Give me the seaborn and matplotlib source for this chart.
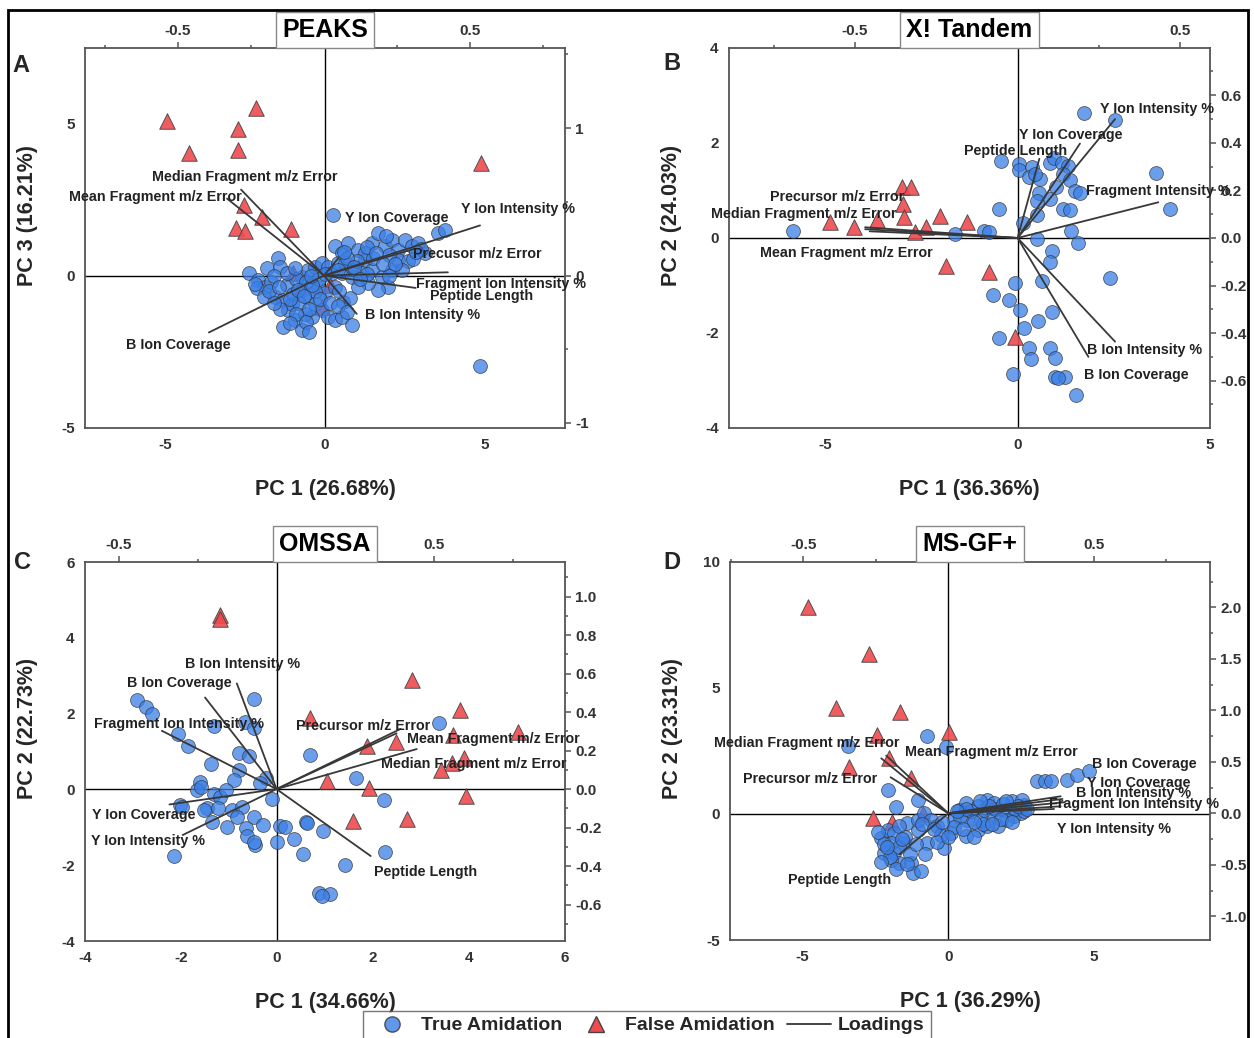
import numpy as np
import pandas as pd
import matplotlib.pyplot as plt
import seaborn as sns
from matplotlib.lines import Line2D
from matplotlib.patches import Rectangle
from matplotlib.ticker import MultipleLocator, FormatStrFormatter


# ---------------- Panel A : PEAKS (PC1 vs PC3) ----------------
a_true_x = [-2.38, -2.08, -1.88, -2.14, -1.82, -1.46, -1.41, -1.56, -1.30, -1.15, -0.94, -0.73, -1.30,
            -1.04, -0.73, -0.52, -0.31, -0.10, -0.42, -0.63, 0.10, 0.31, 0.52, 0.83, 0.57, 0.78, -0.73,
            -0.52, -0.31, -0.10, 0.10, 0.21, -0.21, 0.00, 0.31,
            -1.70, -1.60, -1.20, -0.90, -1.00, -0.80, -0.50, -0.30, -0.60, -1.90, -1.40, -0.20, 0.00,
            -2.20, -1.75, -1.45, -1.10, -0.85, -0.65, -0.40, -0.15, 0.15, 0.40, -0.90, -0.60, -1.10,
            -0.50, -1.20, -0.45, -0.95, 0.45, 0.70, -1.60,
            0.31, 0.52, 0.73, 1.04, 1.25, 1.46, 1.67, 1.88, 2.08, 2.29, 2.50, 2.71, 2.92, 3.13, 3.54, 3.75,
            0.52, 0.83, 1.15, 1.46, 1.77, 2.08, 2.29, 1.98, 1.67, 1.35, 1.04, 0.83, 0.42, 0.63, 1.25,
            2.60, 2.40, 1.50, 1.00, 0.70, 2.00, 3.00, 1.80,
            0.90, 1.30, 1.60, 2.20, 2.75, 2.00, 1.30, 0.60, 1.90, 2.85, 0.40, 1.10,
            0.25, 4.84]
a_true_y = [0.11, -0.13, -0.35, -0.41, 0.25, 0.58, 0.31, -0.68, -0.79, -1.13, -1.46, -1.79, -1.68,
            -0.91, -0.46, -0.68, -0.91, -1.13, -1.35, -1.24, -1.35, -1.46, -1.35, -1.62, -0.85, -0.74, -0.02,
            0.20, 0.31, 0.42, 0.31, 0.09, -0.35, -0.57, -0.35,
            -0.20, 0.00, -0.30, -0.10, -0.60, -0.90, -1.10, -0.50, -0.20, -0.70, -1.10, -0.10, 0.05,
            -0.25, -0.50, -0.35, -0.75, -0.45, -0.65, -0.30, -0.75, -0.90, -1.00, -1.25, -1.50, -1.55,
            -1.85, 0.10, 0.00, 0.25, -0.50, -1.20, -0.90,
            0.97, 0.75, 1.08, 0.86, 0.53, 1.08, 1.41, 0.97, 1.19, 0.86, 1.19, 0.97, 1.08, 0.75, 1.41, 1.52,
            0.09, -0.02, 0.09, 0.20, -0.02, 0.20, 0.53, -0.35, -0.46, -0.24, -0.35, 0.31, 0.42, 0.42, 0.75,
            0.50, 0.20, 0.60, 0.50, 0.60, 0.70, 0.90, 0.40,
            0.30, 0.95, 0.75, 0.40, 0.55, 0.00, 0.05, 0.80, 1.30, 0.80, 0.20, -0.10,
            1.99, -2.95]
a_false_x = [-4.94, -4.25, -2.72, -2.16, -2.72, 4.88, -2.53, -1.97, -2.78, -2.50, -1.06, -0.99, 0.16, -0.10]
a_false_y = [5.10, 4.04, 4.83, 5.53, 4.14, 3.71, 2.32, 1.95, 1.59, 1.49, 1.56, 0.09, -0.30, -1.02]
a_names = ["Median Fragment m/z Error", "Mean Fragment m/z Error", "Y Ion Coverage", "Y Ion Intensity %",
           "Precusor m/z Error", "Fragment Ion Intensity %", "Peptide Length", "B Ion Intensity %",
           "B Ion Coverage"]
a_load_u = [-0.284, -0.332, 0.05, 0.534, 0.307, 0.424, 0.314, 0.112, -0.394]
a_load_v = [0.583, 0.522, 0.12, 0.34, 0.18, 0.022, -0.084, -0.26, -0.386]

# ---------------- Panel B : X! Tandem ----------------
b_true_x = [1.73, 2.54, -0.43, 0.05, 0.03, 0.37, 0.29, 0.57, 0.46, 0.85, 0.94, 1.15, 1.31, 1.18, 1.35,
            1.00, 1.50, 1.63, 0.55, 0.50, 0.85, 1.18, 1.35, 0.50, 0.14, -0.47, 3.60, 3.97, 1.39, 1.56,
            0.50, 0.89, 0.83, -1.62, -0.87, -0.75,
            -0.06, 0.63, 2.39, -0.64, -0.21, 0.07, 0.89, 0.52, 0.16, -0.47, 0.30, 0.83, 0.35, 0.98,
            -0.13, 0.98, 1.24, 1.06, 1.52, -5.84]
b_true_y = [2.64, 2.48, 1.63, 1.56, 1.44, 1.49, 1.28, 1.25, 1.34, 1.58, 1.69, 1.58, 1.51, 1.35, 1.21,
            1.07, 0.98, 0.95, 0.95, 0.77, 0.83, 0.60, 0.58, 0.49, 0.32, 0.62, 1.37, 0.62, 0.14, -0.11,
            -0.02, -0.27, -0.51, 0.08, 0.14, 0.13,
            -0.94, -0.91, -0.84, -1.20, -1.31, -1.52, -1.55, -1.74, -1.90, -2.10, -2.32, -2.31, -2.55, -2.52,
            -2.86, -2.93, -2.92, -2.94, -3.31, 0.15]
b_false_x = [-0.06, -1.85, -0.75, -3.00, -2.77, -2.98, -2.96, -4.87, -4.24, -3.65, -2.66, -2.37, -2.01, -1.32]
b_false_y = [-2.08, -0.58, -0.72, 1.07, 1.08, 0.72, 0.44, 0.33, 0.23, 0.38, 0.12, 0.23, 0.47, 0.33]
b_names = ["Y Ion Intensity %", "Y Ion Coverage", "Peptide Length", "Fragment Intensity %",
           "Precursor m/z Error", "Median Fragment m/z Error", "Mean Fragment m/z Error",
           "B Ion Intensity %", "B Ion Coverage"]
b_load_u = [0.30, 0.192, 0.067, 0.433, -0.469, -0.469, -0.455, 0.30, 0.218]
b_load_v = [0.50, 0.397, 0.333, 0.15, 0.045, 0.037, 0.028, -0.436, -0.50]

# ---------------- Panel C : OMSSA ----------------
c_true_x = [-2.92, -2.72, -2.60, -0.47, -1.32, -0.66, -0.49, -2.07, -1.86, -0.80, -0.59, -1.38, -0.80,
            -0.89, -0.24, -0.35, -1.61, -1.67, -1.58, -1.32, -1.18, -1.06, -2.03, -1.98, -1.46, -1.53,
            -1.22, -0.94, -0.73, -0.83, -0.49, -0.29, -1.35, -1.04, -0.64, -0.63, -0.45, -0.49, -0.10,
            0.06, 0.17, 0.00, 0.36, 0.54, 0.61, 0.96, 0.69, 1.65, 1.42, -2.14, 0.87, 1.11, 0.93, 3.37,
            2.23, 2.25, 0.62]
c_true_y = [2.37, 2.18, 1.98, 2.40, 1.67, 1.78, 1.63, 1.46, 1.14, 0.96, 0.88, 0.68, 0.51,
            0.25, 0.29, 0.16, 0.20, -0.02, 0.07, -0.11, -0.19, -0.02, -0.41, -0.46, -0.50, -0.54,
            -0.50, -0.54, -0.46, -0.72, -0.72, -0.94, -0.85, -0.98, -1.03, -1.23, -1.46, -1.38, -0.26,
            -0.96, -0.98, -1.38, -1.32, -1.70, -0.85, -1.10, 0.90, 0.29, -1.99, -1.75, -2.74, -2.75, -2.80, 1.75,
            -0.29, -1.65, -0.88]
c_false_x = [-1.19, -1.19, 2.81, 3.81, 5.01, 0.68, 1.87, 2.48, 3.67, 3.90, 3.65, 3.42, 1.04, 1.92, 3.94, 1.59, 2.70]
c_false_y = [4.60, 4.50, 2.90, 2.09, 1.52, 1.88, 1.16, 1.25, 1.43, 0.84, 0.71, 0.52, 0.23, 0.03, -0.17, -0.83, -0.79]
c_names = ["B Ion Intensity %", "B Ion Coverage", "Fragment Ion Intensity %", "Y Ion Coverage",
           "Y Ion Intensity %", "Peptide Length", "Precursor m/z Error", "Mean Fragment m/z Error",
           "Median Fragment m/z Error"]
c_load_u = [-0.126, -0.227, -0.364, -0.340, -0.298, 0.299, 0.394, 0.381, 0.445]
c_load_v = [0.549, 0.476, 0.303, -0.08, -0.239, -0.348, 0.313, 0.29, 0.208]

# ---------------- Panel D : MS-GF+ ----------------
d_true_x = [-0.73, -0.08, -3.44, -2.08, -1.80, -1.05, 3.07, 3.32, 3.53, 4.10, 4.44, 4.85,
            -2.31, -2.08, -1.86, -1.97, -2.20, -1.86, -1.68, -1.97, -1.28, -1.22, -0.94, -1.40, -1.05,
            -0.71, -1.05, -1.51, -1.68, -0.82, -0.60, -0.37, -0.25, -0.14, 0.09, 0.21, 0.38, 0.61, 0.66,
            0.61, 1.01, 1.12, 1.35, 1.24, 1.58, 1.70, 1.35, 1.92, 2.21, 2.27, 2.50, 2.61, 2.55, 2.04,
            1.01, 1.58, 0.4, 0.8, 1.6, 1.9, 2.3, 2.6, 1.2, 0.9, -0.4, -1.7, -2.0, -1.3, -1.5, -2.2, -1.8,
            0.2, 0.6, 1.8, 2.4,
            -2.4, -2.1, -1.6, -1.1, -0.9, -0.5, -0.2, 0.3, 0.9, 1.4, 2.0, 2.7, 1.5, 0.5, -1.4, -2.3,
            -0.8, 1.1, 2.2, 0.0]
d_true_y = [3.08, 2.66, 2.69, 0.97, 0.28, 0.57, 1.30, 1.30, 1.30, 1.36, 1.56, 1.69,
            -0.95, -0.62, -0.75, -1.15, -1.55, -1.55, -1.94, -1.81, -1.94, -2.34, -2.28, -0.36, -0.62,
            -1.15, -0.22, -1.15, -0.49, 0.04, -0.22, -0.49, -0.82, -1.35, -0.75, -0.22, 0.17, 0.44, -0.22,
            -0.89, -0.62, -0.22, 0.57, 0.17, 0.04, -0.49, -0.49, 0.17, 0.50, -0.09, 0.04, 0.37, 0.57, -0.22,
            0.30, 0.44, -0.1, 0.1, 0.2, 0.4, 0.2, 0.1, -0.4, -0.9, -1.1, -1.3, -1.7, -1.6, -0.9, -1.2, -2.2,
            -0.5, 0.2, -0.2, 0.3,
            -0.7, -1.3, -1.0, -1.2, -0.4, -0.6, -0.3, 0.1, -0.3, 0.3, 0.5, 0.2, -0.4, -0.6, -2.0, -1.9,
            -1.6, 0.5, -0.3, -0.9]
d_false_x = [-4.81, -2.71, -3.85, -1.66, -2.44, 0.03, -3.42, -2.05, -1.26, -2.60, -1.92, -0.86]
d_false_y = [8.22, 6.34, 4.19, 4.03, 3.14, 3.24, 1.88, 2.23, 1.42, -0.16, -0.33, 0.01]
d_names = ["Median Fragment m/z Error", "Mean Fragment m/z Error", "Precursor m/z Error", "Peptide Length",
           "B Ion Coverage", "Y Ion Coverage", "B Ion Intensity %", "Fragment Ion Intensity %",
           "Y Ion Intensity %"]
d_load_u = [-0.231, -0.214, -0.199, -0.168, 0.387, 0.393, 0.399, 0.387, 0.364]
d_load_v = [0.534, 0.56, 0.35, -0.396, 0.165, 0.139, 0.107, 0.068, 0.042]

# label anchor points (layout, in loading coordinates)
a_lab = [(-0.27, 0.669), (-0.577, 0.533), (0.25, 0.392), (0.664, 0.454), (0.523, 0.148),
         (0.607, -0.057), (0.538, -0.138), (0.336, -0.267), (-0.5, -0.471)]
b_lab = [(0.43, 0.541), (0.164, 0.432), (-0.005, 0.366), (0.433, 0.199), (-0.556, 0.174),
         (-0.659, 0.10), (-0.527, -0.062), (0.391, -0.472), (0.365, -0.575)]
c_lab = [(-0.109, 0.648), (-0.309, 0.554), (-0.309, 0.338), (-0.42, -0.135), (-0.409, -0.268),
         (0.474, -0.433), (0.275, 0.327), (0.687, 0.261), (0.627, 0.131)]
d_lab = [(-0.488, 0.68), (0.149, 0.594), (-0.477, 0.337), (-0.376, -0.646), (0.676, 0.477),
         (0.656, 0.294), (0.638, 0.194), (0.638, 0.094), (0.569, -0.153)]

BLUE = "#3a7fe6"
RED = "#ef4a4f"
GREY = "#555555"

sns.set_theme(style="white")
plt.rcParams['font.family'] = ['Liberation Sans', 'DejaVu Sans']
plt.rcParams['font.weight'] = 'bold'
plt.rcParams['axes.labelweight'] = 'bold'
plt.rcParams['axes.unicode_minus'] = False

fig = plt.figure(figsize=(12.54, 10.38), dpi=100)


def style_axis(ax):
    for s in ax.spines.values():
        s.set_color(GREY)
        s.set_linewidth(1.3)
    ax.tick_params(which='both', direction='out', color=GREY, labelcolor='#333333',
                   labelsize=11, width=1.1)
    ax.tick_params(which='major', length=4)
    ax.tick_params(which='minor', length=2.5)


def panel(pos, tx, ty, fx, fy, names, lu, lv, labs, xlim, ylim, ulim, vlim,
          xstep, ystep, vstep, vfmt, title, letter, letter_xy, xlabel, ylabel):
    ax = fig.add_axes(pos)
    true_df = pd.DataFrame({"x": tx, "y": ty})
    false_df = pd.DataFrame({"x": fx, "y": fy})
    ax.axhline(0, color='black', lw=1.0, zorder=1)
    ax.axvline(0, color='black', lw=1.0, zorder=1)
    sns.scatterplot(data=false_df, x="x", y="y", ax=ax, marker='^', s=125, color=RED,
                    edgecolor='#444444', linewidth=0.7, alpha=0.9, zorder=2)
    sns.scatterplot(data=true_df, x="x", y="y", ax=ax, marker='o', s=100, color=BLUE,
                    edgecolor='#333333', linewidth=0.6, alpha=0.75, zorder=3)
    ax.set_xlim(*xlim)
    ax.set_ylim(*ylim)
    ax.xaxis.set_major_locator(MultipleLocator(xstep))
    ax.xaxis.set_minor_locator(MultipleLocator(xstep / 2))
    ax.yaxis.set_major_locator(MultipleLocator(ystep))
    ax.yaxis.set_minor_locator(MultipleLocator(ystep / 2))
    ax.set_xlabel(xlabel, fontsize=15.5, fontweight='bold')
    ax.set_ylabel(ylabel, fontsize=15.5, fontweight='bold')
    ax.xaxis.set_label_coords(0.5, -0.135)
    ax.yaxis.set_label_coords(-0.097, 0.56)
    style_axis(ax)

    ax2 = fig.add_axes(pos, frameon=False)
    ax2.patch.set_visible(False)
    ax2.xaxis.tick_top()
    ax2.yaxis.tick_right()
    ax2.set_xlim(*ulim)
    ax2.set_ylim(*vlim)
    ax2.xaxis.set_major_locator(MultipleLocator(0.5))
    ax2.xaxis.set_minor_locator(MultipleLocator(0.25))
    ax2.xaxis.set_major_formatter(FormatStrFormatter('%g'))
    ax2.yaxis.set_major_locator(MultipleLocator(vstep))
    ax2.yaxis.set_minor_locator(MultipleLocator(vstep / 2))
    ax2.yaxis.set_major_formatter(FormatStrFormatter(vfmt))
    style_axis(ax2)
    ax2.tick_params(axis='x', pad=3)
    for name, u, v, (lx, ly) in zip(names, lu, lv, labs):
        ax2.plot([0, u], [0, v], color='#383838', lw=1.3, zorder=4)
        ax2.text(lx, ly, name, ha='center', va='center', fontsize=10.3, fontweight='bold',
                 color='#222222', zorder=5)
    ax2.annotate(title, xy=(0.5, 1.0), xycoords='axes fraction', xytext=(0, 4.3),
                 textcoords='offset points', ha='center', va='bottom',
                 fontsize=18, fontweight='bold', color='black', zorder=10, annotation_clip=False,
                 bbox=dict(boxstyle='square,pad=0.25', fc='white', ec='#888888', lw=1))
    fig.text(letter_xy[0], letter_xy[1], letter, fontsize=17, fontweight='bold',
             ha='left', va='center')
    return ax, ax2


panel([0.0678, 0.5877, 0.3828, 0.3661], a_true_x, a_true_y, a_false_x, a_false_y,
      a_names, a_load_u, a_load_v, a_lab, (-7.5, 7.5), (-5, 7.5), (-0.818, 0.825), (-1.034, 1.544),
      5, 5, 1, '%g', "PEAKS", "A", (0.010, 0.937), "PC 1 (26.68%)", "PC 3 (16.21%)")
panel([0.5813, 0.5877, 0.3836, 0.3661], b_true_x, b_true_y, b_false_x, b_false_y,
      b_names, b_load_u, b_load_v, b_lab, (-7.5, 5), (-4, 4), (-0.888, 0.592), (-0.799, 0.799),
      5, 2, 0.2, '%.1f', "X! Tandem", "B", (0.529, 0.939), "PC 1 (36.36%)", "PC 2 (24.03%)")
panel([0.0678, 0.0934, 0.3828, 0.3651], c_true_x, c_true_y, c_false_x, c_false_y,
      c_names, c_load_u, c_load_v, c_lab, (-4, 6), (-4, 6), (-0.608, 0.916), (-0.79, 1.18),
      2, 2, 0.2, '%.1f', "OMSSA", "C", (0.011, 0.458), "PC 1 (34.66%)", "PC 2 (22.73%)")
panel([0.5821, 0.0944, 0.3828, 0.3642], d_true_x, d_true_y, d_false_x, d_false_y,
      d_names, d_load_u, d_load_v, d_lab, (-7.5, 9), (-5, 10), (-0.752, 0.901), (-1.23, 2.44),
      5, 5, 0.5, '%.1f', "MS-GF+", "D", (0.529, 0.458), "PC 1 (36.29%)", "PC 2 (23.31%)")

# outer frame
fig.patches.append(Rectangle((8 / 1254, -0.02), 1240 / 1254, 1.02 - 10 / 1038,
                             transform=fig.transFigure, fill=False, ec='black', lw=2))

handles = [Line2D([], [], marker='o', ls='none', markersize=11, markerfacecolor=BLUE,
                  markeredgecolor='#333333', alpha=0.8),
           Line2D([], [], marker='^', ls='none', markersize=12, markerfacecolor=RED,
                  markeredgecolor='#444444'),
           Line2D([], [], color='#333333', lw=1.3)]
fig.legend(handles, ["True Amidation", "False Amidation", "Loadings"], loc='upper center',
           bbox_to_anchor=(0.516, 0.026), ncol=3, frameon=True, fancybox=False,
           edgecolor=GREY, fontsize=14, handlelength=2.3, handletextpad=0.35,
           columnspacing=0.6, borderaxespad=0, borderpad=0.3)

fig.savefig("out.png", dpi=100)
